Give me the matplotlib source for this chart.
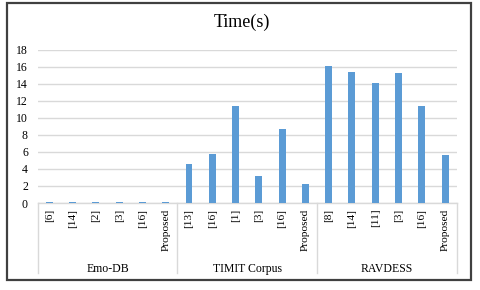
import matplotlib
matplotlib.use("Agg")
import matplotlib.pyplot as plt
import matplotlib.transforms as mtransforms
from matplotlib.patches import Rectangle

groups = ["Emo-DB", "TIMIT Corpus", "RAVDESS"]
sub_labels = [
    ["[6]", "[14]", "[2]", "[3]", "[16]", "Proposed"],
    ["[13]", "[16]", "[1]", "[3]", "[16]", "Proposed"],
    ["[8]", "[14]", "[11]", "[3]", "[16]", "Proposed"],
]
values = [
    [0.08, 0.08, 0.08, 0.08, 0.08, 0.08],
    [4.6, 5.7, 11.4, 3.2, 8.7, 2.2],
    [16.1, 15.4, 14.1, 15.3, 11.35, 5.6],
]
yticks = [0, 2, 4, 6, 8, 10, 12, 14, 16, 18]

plt.rcParams['font.family'] = ['Liberation Serif', 'DejaVu Serif']

fig = plt.figure(figsize=(4.8, 2.9), dpi=100)
fig.patch.set_facecolor('white')
ax = fig.add_axes([0.0785, 0.30, 0.873, 0.5293])

labels = [l for g in sub_labels for l in g]
vals = [v for g in values for v in g]
x = list(range(len(vals)))
ax.bar(x, vals, width=0.3, color='#5b9bd5', zorder=3)

ax.set_xlim(-0.5, len(vals) - 0.5)
ax.set_ylim(0, 18)
ax.set_yticks(yticks)
ax.set_yticklabels([str(t) for t in yticks], fontsize=8.5)
ax.set_xticks(x)
ax.set_xticklabels(labels, rotation=90, fontsize=8.2)
ax.tick_params(axis='x', length=0, pad=4)
ax.tick_params(axis='y', length=0, pad=7)
ax.grid(axis='y', color='#d9d9d9', linewidth=1, zorder=0)
for s in ['top', 'right', 'left']:
    ax.spines[s].set_visible(False)
ax.spines['bottom'].set_color('#d9d9d9')
ax.spines['bottom'].set_linewidth(1)

trans = mtransforms.blended_transform_factory(ax.transData, ax.transAxes)
n = len(sub_labels[0])
for i in range(len(groups) + 1):
    xb = i * n - 0.5
    ax.plot([xb, xb], [0, -0.456], transform=trans, color='#d9d9d9',
            linewidth=1, clip_on=False)
for i, g in enumerate(groups):
    xc = i * n + (n - 1) / 2
    ax.text(xc, -0.43, g, transform=trans, ha='center', va='center',
            fontsize=8.5)

fig.text(0.503, 0.924, "Time(s)", ha='center', va='center', fontsize=13)

fig.patches.append(Rectangle((0.0146, 0.0345), 0.9667, 0.955,
                             transform=fig.transFigure, fill=False,
                             edgecolor='#404040', linewidth=1.6))

fig.savefig("out.png", dpi=100)
